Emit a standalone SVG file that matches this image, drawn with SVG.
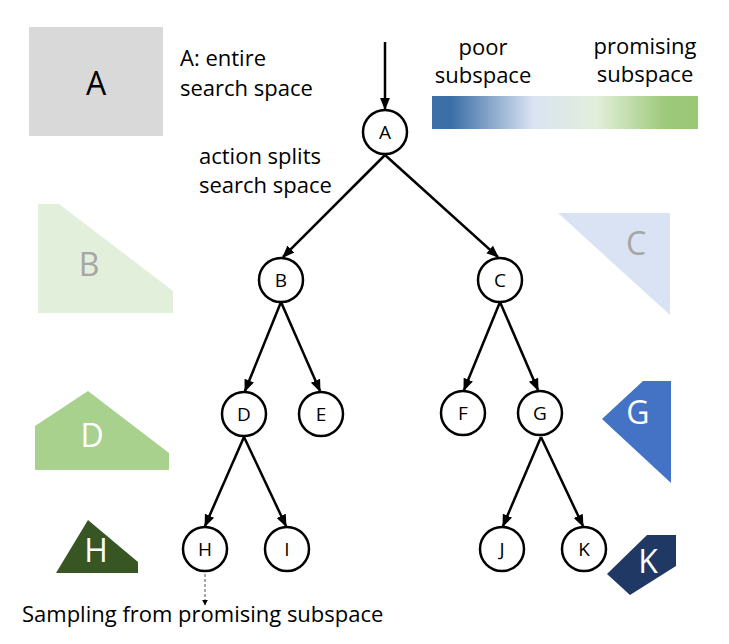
<svg xmlns="http://www.w3.org/2000/svg" width="729" height="644" viewBox="0 0 729 644">
<defs>
<linearGradient id="bar" x1="0" y1="0" x2="1" y2="0">
<stop offset="0" stop-color="#3e70a6"/>
<stop offset="0.07" stop-color="#3a6ea5"/>
<stop offset="0.38" stop-color="#dae3f3"/>
<stop offset="0.62" stop-color="#e2efda"/>
<stop offset="0.88" stop-color="#9dc97a"/>
<stop offset="1" stop-color="#9bc877"/>
</linearGradient>
<marker id="ah" viewBox="0 0 10 10" refX="9" refY="5" markerWidth="5" markerHeight="5" markerUnits="strokeWidth" orient="auto">
<path d="M0,1 L10,5 L0,9 Z" fill="#000"/>
</marker>
<marker id="ahs" viewBox="0 0 10 10" refX="9" refY="5" markerWidth="6" markerHeight="6" markerUnits="strokeWidth" orient="auto">
<path d="M0,0 L10,5 L0,10 Z" fill="#000"/>
</marker>
</defs>
<style>
text{font-family:"Open Sans","Noto Sans","DejaVu Sans",sans-serif;}
.lbl{font-size:22px;fill:#000;}
.nt{font-size:19px;fill:#000;text-anchor:middle;}
.big{font-size:32px;text-anchor:middle;}
.node circle{fill:#fff;stroke:#000;stroke-width:2.5;}
.edge{stroke:#000;stroke-width:2.5;fill:none;marker-end:url(#ah);}
</style>
<rect width="729" height="644" fill="#fff"/>

<g id="legend-A">
<rect x="29" y="27" width="134" height="109" fill="#d9d9d9"/>
<text class="big" x="96" y="95" fill="#000">A</text>
</g>
<text class="lbl" x="180" y="66">A: entire</text>
<text class="lbl" x="180" y="96">search space</text>
<text class="lbl" x="199" y="164">action splits</text>
<text class="lbl" x="199" y="193">search space</text>

<g id="gradient-legend">
<rect x="432" y="96" width="266" height="33" fill="url(#bar)"/>
<text class="lbl" x="483" y="55" text-anchor="middle">poor</text>
<text class="lbl" x="483" y="83" text-anchor="middle">subspace</text>
<text class="lbl" x="645" y="54" text-anchor="middle">promising</text>
<text class="lbl" x="645" y="82" text-anchor="middle">subspace</text>
</g>

<g id="shape-B">
<polygon points="38,204 59,204 173,291 173,313 38,313" fill="#e2efda"/>
<text class="big" x="89" y="276" fill="#a6a6a6">B</text>
</g>
<g id="shape-C">
<polygon points="558,213 670,213 670,315" fill="#dae3f3"/>
<text class="big" x="636" y="255" fill="#a6a6a6">C</text>
</g>
<g id="shape-D">
<polygon points="35,426 88,391 169,453 169,470 35,470" fill="#a9d18e"/>
<text class="big" x="92" y="447" fill="#fff">D</text>
</g>
<g id="shape-G">
<polygon points="602,419 643,381 671,381 671,483" fill="#4472c4"/>
<text class="big" x="638" y="424" fill="#fff">G</text>
</g>
<g id="shape-H">
<polygon points="88,520 138,562 138,573 56,573" fill="#375623"/>
<text class="big" x="96" y="562" fill="#fff">H</text>
</g>
<g id="shape-K">
<polygon points="607,574 647,535 676,535 676,566 630,595" fill="#203864"/>
<text class="big" x="648" y="573" fill="#fff">K</text>
</g>

<g id="connectors">
<line class="edge" x1="385" y1="42" x2="385" y2="109"/>
<line class="edge" x1="385" y1="155" x2="283" y2="257"/>
<line class="edge" x1="385" y1="155" x2="498" y2="257"/>
<line class="edge" x1="281" y1="302" x2="245" y2="391"/>
<line class="edge" x1="281" y1="302" x2="320" y2="391"/>
<line class="edge" x1="244" y1="437" x2="205" y2="526"/>
<line class="edge" x1="244" y1="437" x2="286" y2="526"/>
<line class="edge" x1="500" y1="302" x2="464" y2="390"/>
<line class="edge" x1="500" y1="302" x2="538" y2="390"/>
<line class="edge" x1="541" y1="437" x2="503" y2="526"/>
<line class="edge" x1="541" y1="437" x2="583" y2="526"/>
<line x1="205" y1="574" x2="205" y2="605" stroke="#555" stroke-width="1" stroke-dasharray="3,2" marker-end="url(#ahs)"/>
</g>

<g id="node-A" class="node"><circle cx="385" cy="132" r="22"/><text class="nt" x="385" y="139">A</text></g>
<g id="node-B" class="node"><circle cx="281" cy="280" r="22"/><text class="nt" x="281" y="287">B</text></g>
<g id="node-C" class="node"><circle cx="500" cy="280" r="22"/><text class="nt" x="500" y="287">C</text></g>
<g id="node-D" class="node"><circle cx="244" cy="414" r="22"/><text class="nt" x="244" y="421">D</text></g>
<g id="node-E" class="node"><circle cx="321" cy="414" r="22"/><text class="nt" x="321" y="421">E</text></g>
<g id="node-F" class="node"><circle cx="463" cy="413" r="22"/><text class="nt" x="463" y="420">F</text></g>
<g id="node-G" class="node"><circle cx="540" cy="413" r="22"/><text class="nt" x="540" y="420">G</text></g>
<g id="node-H" class="node"><circle cx="205" cy="549" r="22"/><text class="nt" x="205" y="556">H</text></g>
<g id="node-I" class="node"><circle cx="287" cy="549" r="22"/><text class="nt" x="287" y="556">I</text></g>
<g id="node-J" class="node"><circle cx="502" cy="549" r="22"/><text class="nt" x="502" y="556">J</text></g>
<g id="node-K" class="node"><circle cx="584" cy="549" r="22"/><text class="nt" x="584" y="556">K</text></g>

<text class="lbl" x="22" y="622">Sampling from promising subspace</text>
</svg>
